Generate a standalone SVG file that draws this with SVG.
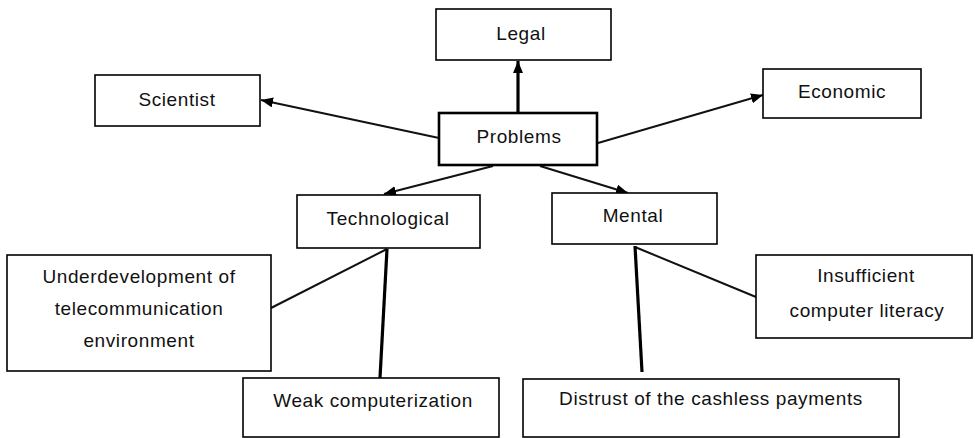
<svg xmlns="http://www.w3.org/2000/svg" width="975" height="438" viewBox="0 0 975 438">
<style>
.box{fill:#fff;stroke:#000;stroke-width:1.6}
.main{fill:#fff;stroke:#000;stroke-width:2.6}
text{font-family:"Liberation Sans",Arial,sans-serif;font-size:19px;fill:#111;text-anchor:middle;letter-spacing:0.6px}
.ln{stroke:#111;stroke-width:2;fill:none}
.thk{stroke:#000;stroke-width:3.2;fill:none}
</style>
<defs>
<marker id="ah" markerUnits="userSpaceOnUse" markerWidth="14" markerHeight="12" refX="12" refY="5" orient="auto">
<path d="M0,0 L12,5 L0,10 Z" fill="#000"/>
</marker>
</defs>
<rect width="975" height="438" fill="#fff"/>
<g id="connectors">
<line class="thk" x1="518" y1="113" x2="518" y2="61" marker-end="url(#ah)"/>
<line class="ln" x1="439" y1="138" x2="261" y2="100" marker-end="url(#ah)"/>
<line class="ln" x1="598" y1="143" x2="763" y2="95" marker-end="url(#ah)"/>
<line class="ln" x1="493" y1="166" x2="384" y2="194" marker-end="url(#ah)"/>
<line class="ln" x1="540" y1="166" x2="628" y2="193" marker-end="url(#ah)"/>
<line class="ln" x1="387" y1="249" x2="271" y2="308"/>
<line class="thk" x1="387" y1="249" x2="380" y2="378"/>
<line class="ln" x1="635" y1="247" x2="756" y2="297"/>
<line class="thk" x1="635" y1="246" x2="642" y2="372"/>
</g>
<g id="legal"><rect class="box" x="436" y="9" width="175" height="51"/><text x="521" y="40">Legal</text></g>
<g id="scientist"><rect class="box" x="95" y="75" width="165" height="51"/><text x="177" y="106">Scientist</text></g>
<g id="problems"><rect class="main" x="439" y="113" width="158" height="52"/><text x="519" y="143">Problems</text></g>
<g id="economic"><rect class="box" x="763" y="69" width="158" height="49"/><text x="842" y="98">Economic</text></g>
<g id="technological"><rect class="box" x="297" y="195" width="183" height="53"/><text x="388" y="225">Technological</text></g>
<g id="mental"><rect class="box" x="552" y="193" width="165" height="51"/><text x="633" y="222">Mental</text></g>
<g id="underdevelopment"><rect class="box" x="7" y="255" width="264" height="116"/><text x="139" y="283">Underdevelopment of</text><text x="139" y="315">telecommunication</text><text x="139" y="347">environment</text></g>
<g id="insufficient"><rect class="box" x="756" y="255" width="216" height="83"/><text x="866" y="282">Insufficient</text><text x="867" y="317">computer literacy</text></g>
<g id="weak"><rect class="box" x="243" y="378" width="256" height="59"/><text x="373" y="407">Weak computerization</text></g>
<g id="distrust"><rect class="box" x="523" y="379" width="376" height="58"/><text x="711" y="405">Distrust of the cashless payments</text></g>
</svg>
